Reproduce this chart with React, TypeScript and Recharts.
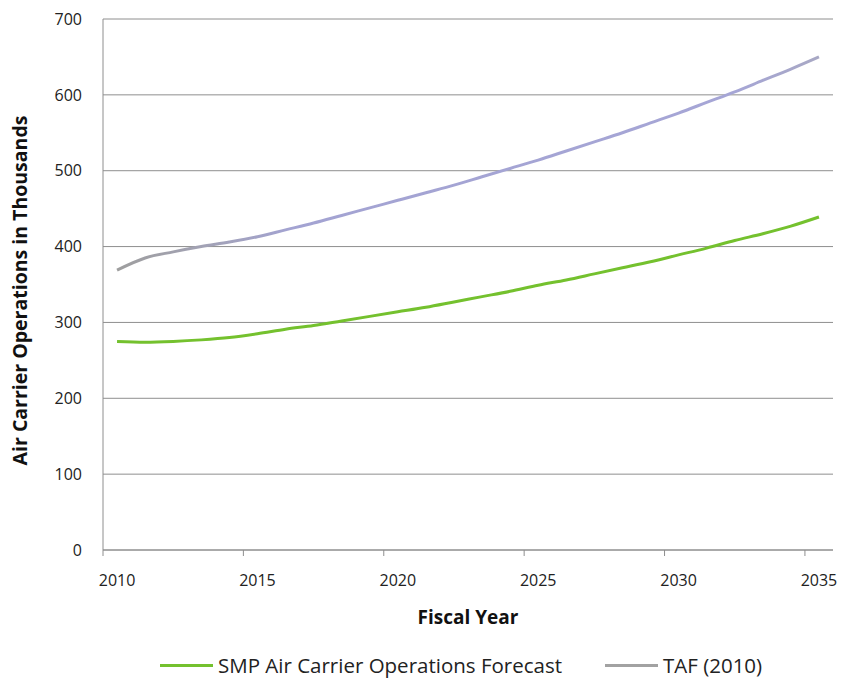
import React from 'react';
import {
  LineChart,
  Line,
  XAxis,
  YAxis,
  CartesianGrid,
  Legend,
} from 'recharts';

// Fiscal years on the category axis
const years = [
  2010, 2011, 2012, 2013, 2014, 2015, 2016, 2017, 2018, 2019, 2020, 2021, 2022,
  2023, 2024, 2025, 2026, 2027, 2028, 2029, 2030, 2031, 2032, 2033, 2034, 2035,
];

// Air carrier operations, thousands
const smpForecast = [
  275, 274, 275, 277, 280, 285, 291, 296, 302, 308, 314, 320, 327, 334, 341,
  349, 356, 364, 372, 380, 389, 398, 408, 417, 427, 439,
];
const tafForecast = [
  369, 385, 393, 400, 406, 413, 422, 431, 441, 451, 461, 471, 481, 492, 503,
  514, 526, 538, 550, 563, 576, 590, 604, 619, 634, 650,
];

const xTicks = [2010, 2015, 2020, 2025, 2030, 2035];
const yTicks = [0, 100, 200, 300, 400, 500, 600, 700];

const seriesNames = {
  smp: 'SMP Air Carrier Operations Forecast',
  taf: 'TAF (2010)',
};

const data = years.map((year, i) => ({
  year,
  smp: smpForecast[i],
  taf: tafForecast[i],
}));

// Layout
const WIDTH = 841;
const HEIGHT = 675;
const MARGIN = { top: 11, right: 16, bottom: 3, left: 35 };
const Y_AXIS_W = 60;
const PLOT_W = WIDTH - MARGIN.left - MARGIN.right - Y_AXIS_W;
const HALF_BAND = PLOT_W / years.length / 2;

const FONT = '"Open Sans", "Segoe UI", sans-serif';
const GRID = '#8e8e8e';
const GREEN = '#74c12e';
const GRAY = '#a2a2a2';

// Year labels sit in the middle of each band, tick marks on the band edges
const YearTick = (props: any) => {
  const { x, y, payload } = props;
  return (
    <g>
      <line
        x1={x - HALF_BAND}
        x2={x - HALF_BAND}
        y1={y}
        y2={y + 6}
        stroke={GRID}
        strokeWidth={1}
      />
      <text
        x={x}
        y={y + 30}
        textAnchor="middle"
        dominantBaseline="central"
        fontFamily={FONT}
        fontSize={16}
        fill="#222"
      >
        {payload.value}
      </text>
    </g>
  );
};

const ChartLegend = () => (
  <div style={{ position: 'relative', height: 30, width: WIDTH, fontFamily: FONT }}>
    {[
      { name: seriesNames.smp, color: GREEN, left: 152 },
      { name: seriesNames.taf, color: GRAY, left: 597 },
    ].map((item) => (
      <div
        key={item.name}
        style={{
          position: 'absolute',
          left: item.left,
          top: 0,
          height: 30,
          display: 'flex',
          alignItems: 'center',
          whiteSpace: 'nowrap',
        }}
      >
        <span
          style={{
            display: 'inline-block',
            width: 53,
            height: 3,
            background: item.color,
            marginRight: 5,
          }}
        />
        <span style={{ fontSize: 20.5, color: '#222' }}>{item.name}</span>
      </div>
    ))}
  </div>
);

export default function App() {
  return (
    <LineChart width={WIDTH} height={HEIGHT} data={data} margin={MARGIN}>
      <defs>
        <linearGradient id="tafStroke" x1="0" y1="0" x2="1" y2="0">
          <stop offset="0%" stopColor="#9e9e9e" />
          <stop offset="12%" stopColor="#a2a2b4" />
          <stop offset="25%" stopColor="#a3a3d2" />
          <stop offset="88%" stopColor="#a6a6d6" />
          <stop offset="100%" stopColor="#a8a8c4" />
        </linearGradient>
      </defs>
      <CartesianGrid vertical={false} stroke={GRID} strokeWidth={1} />
      <XAxis
        dataKey="year"
        type="number"
        domain={[2009.5, 2035.5]}
        ticks={xTicks}
        interval={0}
        height={100}
        tickLine={false}
        tickSize={0}
        tickMargin={0}
        axisLine={{ stroke: GRID }}
        tick={<YearTick />}
        label={{
          content: (p: any) => {
            const vb = p.viewBox;
            return (
              <text
                x={vb.x + vb.width / 2}
                y={vb.y + 67}
                textAnchor="middle"
                dominantBaseline="central"
                fontFamily={FONT}
                fontSize={19}
                fontWeight="bold"
                fill="#111"
              >
                Fiscal Year
              </text>
            );
          },
        }}
      />
      <YAxis
        width={Y_AXIS_W}
        domain={[0, 700]}
        ticks={yTicks}
        interval={0}
        tickLine={false}
        tickSize={0}
        tickMargin={21}
        axisLine={{ stroke: GRID }}
        tick={{ fontFamily: FONT, fontSize: 16, fill: '#222' }}
        label={{
          content: (p: any) => {
            const vb = p.viewBox;
            const cx = vb.x + vb.width - 84;
            const cy = vb.y + vb.height / 2 + 6;
            return (
              <text
                x={cx}
                y={cy}
                transform={`rotate(-90, ${cx}, ${cy})`}
                textAnchor="middle"
                dominantBaseline="central"
                fontFamily={FONT}
                fontSize={19.5}
                fontWeight="bold"
                fill="#111"
              >
                Air Carrier Operations in Thousands
              </text>
            );
          },
        }}
      />
      <Legend
        verticalAlign="bottom"
        content={<ChartLegend />}
        wrapperStyle={{ left: 0, width: WIDTH, bottom: MARGIN.bottom, height: 30 }}
      />
      <Line
        type="monotone"
        dataKey="taf"
        name={seriesNames.taf}
        stroke="url(#tafStroke)"
        strokeWidth={3}
        dot={false}
        isAnimationActive={false}
      />
      <Line
        type="monotone"
        dataKey="smp"
        name={seriesNames.smp}
        stroke={GREEN}
        strokeWidth={3}
        dot={false}
        isAnimationActive={false}
      />
    </LineChart>
  );
}
